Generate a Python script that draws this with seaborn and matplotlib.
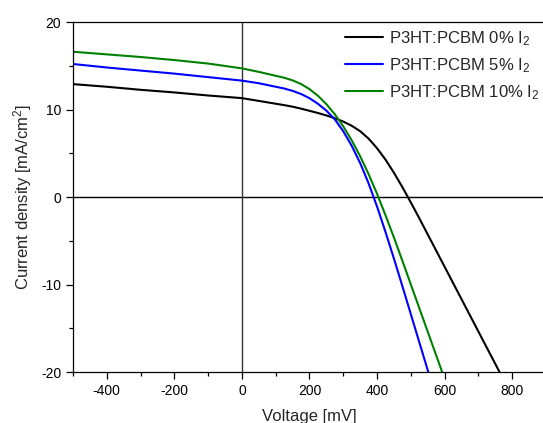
import numpy as np
import pandas as pd
import matplotlib
matplotlib.use("Agg")
import matplotlib.pyplot as plt
import seaborn as sns

voltage = [-500, -400, -300, -200, -100, 0, 50, 100, 125, 150, 175, 200, 225, 250, 275, 300,
           325, 350, 375, 400, 425, 450, 475, 500, 525, 550, 575, 600, 650, 700, 750, 800]
j_0 = [12.9, 12.6, 12.25, 11.95, 11.6, 11.3, 10.98, 10.66, 10.5, 10.32, 10.1, 9.85, 9.6, 9.32, 9.0, 8.62,
       8.14, 7.52, 6.67, 5.57, 4.27, 2.77, 1.12, -0.63, -2.43, -4.28, -6.13, -7.98, -11.68, -15.38, -19.08, -22.78]
j_5 = [15.2, 14.8, 14.45, 14.1, 13.7, 13.3, 13.0, 12.6, 12.4, 12.13, 11.77, 11.29, 10.65, 9.87, 8.87, 7.51,
       5.85, 3.87, 1.55, -1.1, -4.0, -7.05, -10.2, -13.4, -16.6, -19.8, -23.0, None, None, None, None, None]
j_10 = [16.6, 16.3, 16.0, 15.65, 15.25, 14.7, 14.3, 13.85, 13.63, 13.33, 12.91, 12.33, 11.57, 10.61, 9.45, 8.07,
        6.47, 4.65, 2.61, 0.36, -2.09, -4.64, -7.3, -10.0, -12.7, -15.4, -18.1, -20.8, None, None, None, None]
labels = ["P3HT:PCBM 0% I$_2$", "P3HT:PCBM 5% I$_2$", "P3HT:PCBM 10% I$_2$"]
colors = ["#000000", "#0000FF", "#008000"]
x_ticks = [-400, -200, 0, 200, 400, 600, 800]
y_ticks = [-20, -10, 0, 10, 20]

frames = []
for lab, vals in zip(labels, [j_0, j_5, j_10]):
    frames.append(pd.DataFrame({"Voltage": voltage, "J": vals, "Sample": lab}))
df = pd.concat(frames, ignore_index=True).dropna()

sns.set_theme(style="ticks")
plt.rcParams["font.family"] = ["Liberation Sans", "DejaVu Sans"]
plt.rcParams["mathtext.fontset"] = "custom"
plt.rcParams["mathtext.rm"] = "Liberation Sans"
plt.rcParams["mathtext.it"] = "Liberation Sans:italic"
plt.rcParams["mathtext.bf"] = "Liberation Sans:bold"
plt.rcParams["axes.unicode_minus"] = False

W, H = 543, 423
fig = plt.figure(figsize=(W / 100, H / 100), dpi=100)
fig.patch.set_facecolor("white")
ax = fig.add_axes([73 / W, (H - 372) / H, (546 - 73) / W, (372 - 22) / H])

sns.lineplot(data=df, x="Voltage", y="J", hue="Sample", palette=dict(zip(labels, colors)),
             hue_order=labels, errorbar=None, linewidth=1.5, ax=ax, legend=True)

ax.axhline(0, color="black", linewidth=1.0, zorder=1)
ax.axvline(0, color="#333333", linewidth=1.0, zorder=1)

ax.set_xlim(-500, 900)
ax.set_ylim(-20, 20)
ax.set_xticks(x_ticks)
ax.set_yticks(y_ticks)
ax.set_xticks([-500, -300, -100, 100, 300, 500, 700, 900], minor=True)
ax.set_yticks([-15, -5, 5, 15], minor=True)
ax.tick_params(axis="both", which="major", length=5, width=0.9, labelsize=10, direction="out", color="black", labelcolor="black")
ax.tick_params(axis="both", which="minor", length=3, width=0.9, direction="out", color="black")
for s in ["left", "bottom", "top", "right"]:
    ax.spines[s].set_visible(True)
    ax.spines[s].set_color("black")
    ax.spines[s].set_linewidth(0.9)

ax.set_xlabel("Voltage [mV]", fontsize=12, labelpad=8)
ax.set_ylabel("Current density [mA/cm$^2$]", fontsize=12, labelpad=5)

leg = ax.legend(loc="upper left", bbox_to_anchor=((345 - 73) / (546 - 73), 0.98),
                frameon=False, fontsize=12, handlelength=2.3, handletextpad=0.35,
                borderpad=0, borderaxespad=0, labelspacing=0.5)

fig.savefig("out.png", dpi=100, facecolor="white")
